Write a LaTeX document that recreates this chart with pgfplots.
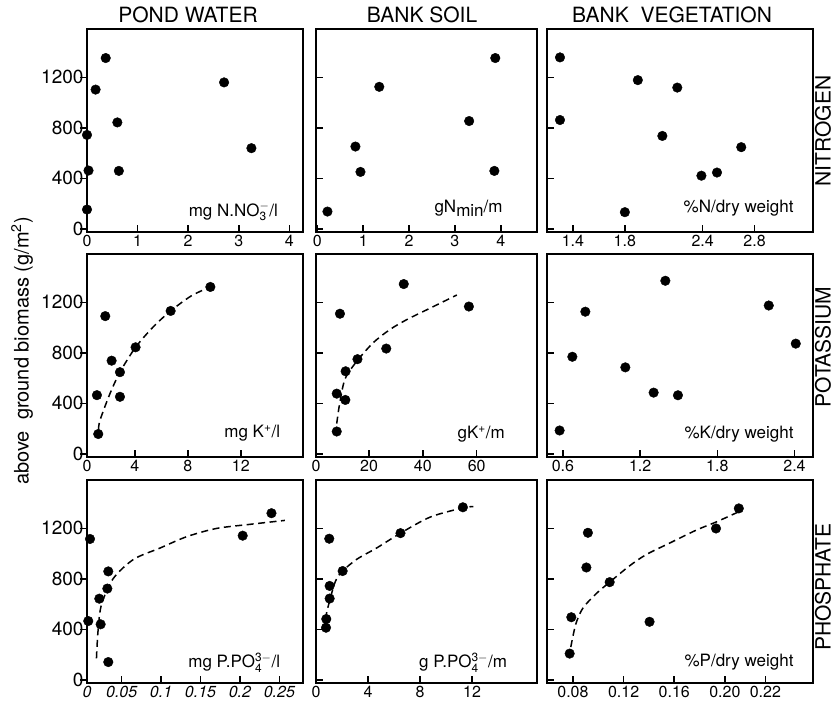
\documentclass[border=0pt]{standalone}
\usepackage{fontspec}
\setmainfont{TeX Gyre Heros}
\usepackage{pgfplots}
\pgfplotsset{compat=1.18}
\tikzset{inlab/.style={anchor=base east, font=\fontsize{17}{20}\selectfont}}
\begin{document}
\begin{tikzpicture}[x=1pt,y=1pt]
\useasboundingbox (0,0) rectangle (835,-701);
\pgfplotsset{
 panel/.style={scale only axis, anchor=north west, clip=false,
   axis line style={line width=1.9pt},
   tick align=inside, major tick length=7pt,
   major tick style={line width=1.5pt, black},
   xtick pos=left, ytick pos=left,
   ymin=-25, ymax=1583, ytick={0,400,800,1200}, yticklabels={},
   /pgf/number format/assume math mode=true,
   x tick label style={font=\fontsize{16}{18}\selectfont},
   y tick label style={font=\fontsize{19}{22}\selectfont},
   height=203pt},
 ylab/.style={yticklabels={0,400,800,1200}, every y tick/.append style={xshift=-7pt}},
 dots/.style={only marks, mark=*, mark size=4.8pt, black},
 fit/.style={black, line width=1.5pt, dash pattern=on 7pt off 4.5pt, smooth, no markers},
}
% ---------------- Row 1: NITROGEN
\begin{axis}[panel, ylab, at={(87pt,-29pt)}, width=216pt,
  xmin=0, xmax=4.27, xtick={0,1,2,3,4}, xticklabels={0,1,2,3,4}]
\addplot[dots] coordinates {(0.37,1353) (0.17,1103) (2.71,1160) (0.6,843) (0.0,744) (3.25,639) (0.03,462) (0.63,459) (0.0,153)};
\node[inlab] at (rel axis cs:0.9,0.075) {mg N.NO$_{\mathrm{3}}^{-}$/l};
\end{axis}
\begin{axis}[panel, at={(316pt,-29pt)}, width=221pt,
  xmin=-0.03, xmax=4.79, xtick={0,1,2,3,4}, xticklabels={0,1,2,3,4}]
\addplot[dots] coordinates {(3.88,1353) (1.35,1125) (3.31,854) (0.83,652) (0.94,451) (3.86,459) (0.22,137)};
\node[inlab] at (rel axis cs:0.86,0.095) {gN\raisebox{-0.45ex}{min}/m};
\end{axis}
\begin{axis}[panel, at={(547pt,-29pt)}, width=266pt,
  xmin=1.2, xmax=3.25, xtick={1.4,1.8,2.4,2.8}, xticklabels={1.4,1.8,2.4,2.8}]
\addplot[dots] coordinates {(1.30,1358) (1.90,1178) (2.204,1119) (1.30,862) (2.089,736) (2.697,647) (2.39,421) (2.51,446) (1.80,132)};
\node[inlab] at (rel axis cs:0.94,0.095) {\%N/dry weight};
\end{axis}
% ---------------- Row 2: POTASSIUM
\begin{axis}[panel, ylab, at={(87pt,-254pt)}, width=216pt,
  xmin=0.38, xmax=16.7, xtick={0.38,4,8,12}, xticklabels={0,4,8,12}]
\addplot[fit] coordinates {(1.25,190) (1.36,265) (2.1,473) (2.87,647) (4.05,844) (5.38,1005) (6.7,1132) (8.27,1252) (9.7,1322)};
\addplot[dots] coordinates {(9.7,1322) (6.7,1132) (1.76,1091) (4.05,844) (2.24,738) (2.87,647) (1.13,465) (2.87,452) (1.23,157)};
\node[inlab] at (rel axis cs:0.91,0.095) {mg K\textsuperscript{+}/l};
\end{axis}
\begin{axis}[panel, at={(316pt,-254pt)}, width=221pt,
  xmin=0.3, xmax=82.4, xtick={0.3,20,40,60}, xticklabels={0,20,40,60}]
\addplot[fit] coordinates {(8.0,240) (9.0,386) (11.1,594) (15.6,737) (21.6,881) (27.8,985) (34,1063) (42.7,1154) (52.6,1258)};
\addplot[dots] coordinates {(32.9,1345) (57.1,1167) (9.2,1110) (26.4,834) (15.7,750) (11.3,654) (8.0,477) (11.2,427) (8.0,177)};
\node[inlab] at (rel axis cs:0.87,0.09) {gK\textsuperscript{+}/m};
\end{axis}
\begin{axis}[panel, at={(547pt,-254pt)}, width=266pt,
  xmin=0.476, xmax=2.544, xtick={0.6,1.2,1.8,2.4}, xticklabels={0.6,1.2,1.8,2.4}]
\addplot[dots] coordinates {(1.396,1371) (2.20,1175) (0.774,1126) (2.41,873) (0.673,769) (1.085,685) (1.305,485) (1.494,464) (0.574,185)};
\node[inlab] at (rel axis cs:0.94,0.09) {\%K/dry weight};
\end{axis}
% ---------------- Row 3: PHOSPHATE
\begin{axis}[panel, ylab, at={(87pt,-480pt)}, width=216pt,
  xmin=0.006, xmax=0.28, xtick={0.006,0.05,0.1,0.15,0.2,0.25},
  xticklabels={0,0.05,0.1,0.15,0.2,0.25},
  x tick label style={font=\fontsize{16}{18}\selectfont\itshape}]
\addplot[fit] coordinates {(0.018,170) (0.02,388) (0.0243,594) (0.039,800) (0.065,954) (0.0986,1044) (0.1325,1134) (0.17,1199) (0.213,1232) (0.257,1263)};
\addplot[dots] coordinates {(0.240,1320) (0.2035,1142) (0.0098,1116) (0.033,859) (0.0318,723) (0.0216,643) (0.0076,466) (0.0233,440) (0.033,141)};
\node[inlab] at (rel axis cs:0.91,0.074) {mg P.PO$_{\mathrm{4}}^{\mathrm{3}-}$/l};
\end{axis}
\begin{axis}[panel, at={(316pt,-480pt)}, width=221pt,
  xmin=0, xmax=17, xtick={0,4,8,12}, xticklabels={0,4,8,12}]
\addplot[fit] coordinates {(0.59,392) (0.85,546) (1.48,777) (2.05,862) (3.15,956) (4.69,1046) (6.5,1162) (8.8,1290) (11.3,1362) (12.1,1372)};
\addplot[dots] coordinates {(11.3,1367) (6.5,1162) (1.02,1118) (2.05,862) (1.05,744) (1.05,644) (0.79,482) (0.77,413)};
\node[inlab] at (rel axis cs:0.88,0.074) {g P.PO$_{\mathrm{4}}^{\mathrm{3}-}$/m};
\end{axis}
\begin{axis}[panel, at={(547pt,-480pt)}, width=266pt,
  xmin=0.0595, xmax=0.2696, xtick={0.08,0.12,0.16,0.20,0.232},
  xticklabels={0.08,0.12,0.16,0.20,0.22}]
\addplot[fit] coordinates {(0.0783,260) (0.0822,440) (0.0879,569) (0.0985,684) (0.109,774) (0.1247,903) (0.138,993) (0.1563,1083) (0.1774,1186) (0.193,1250) (0.210,1327)};
\addplot[dots] coordinates {(0.211,1358) (0.193,1199) (0.0918,1165) (0.0906,890) (0.109,774) (0.0787,496) (0.1405,460) (0.0774,208)};
\node[inlab] at (rel axis cs:0.94,0.08) {\%P/dry weight};
\end{axis}
% ---------------- titles and labels
\begin{scope}[font=\fontsize{21}{24}\selectfont]
\node at (188pt,-15pt) {POND WATER};
\node at (422pt,-15pt) {BANK SOIL};
\node at (672pt,-15pt) {BANK\ \ VEGETATION};
\node[rotate=90] at (823pt,-131pt) {NITROGEN};
\node[rotate=90] at (823pt,-347pt) {POTASSIUM};
\node[rotate=90] at (823pt,-587pt) {PHOSPHATE};
\end{scope}
\node[rotate=90, font=\fontsize{20}{23}\selectfont] at (22pt,-351pt) {above\ \ ground biomass (g/m\textsuperscript{2})};
\end{tikzpicture}
\end{document}
